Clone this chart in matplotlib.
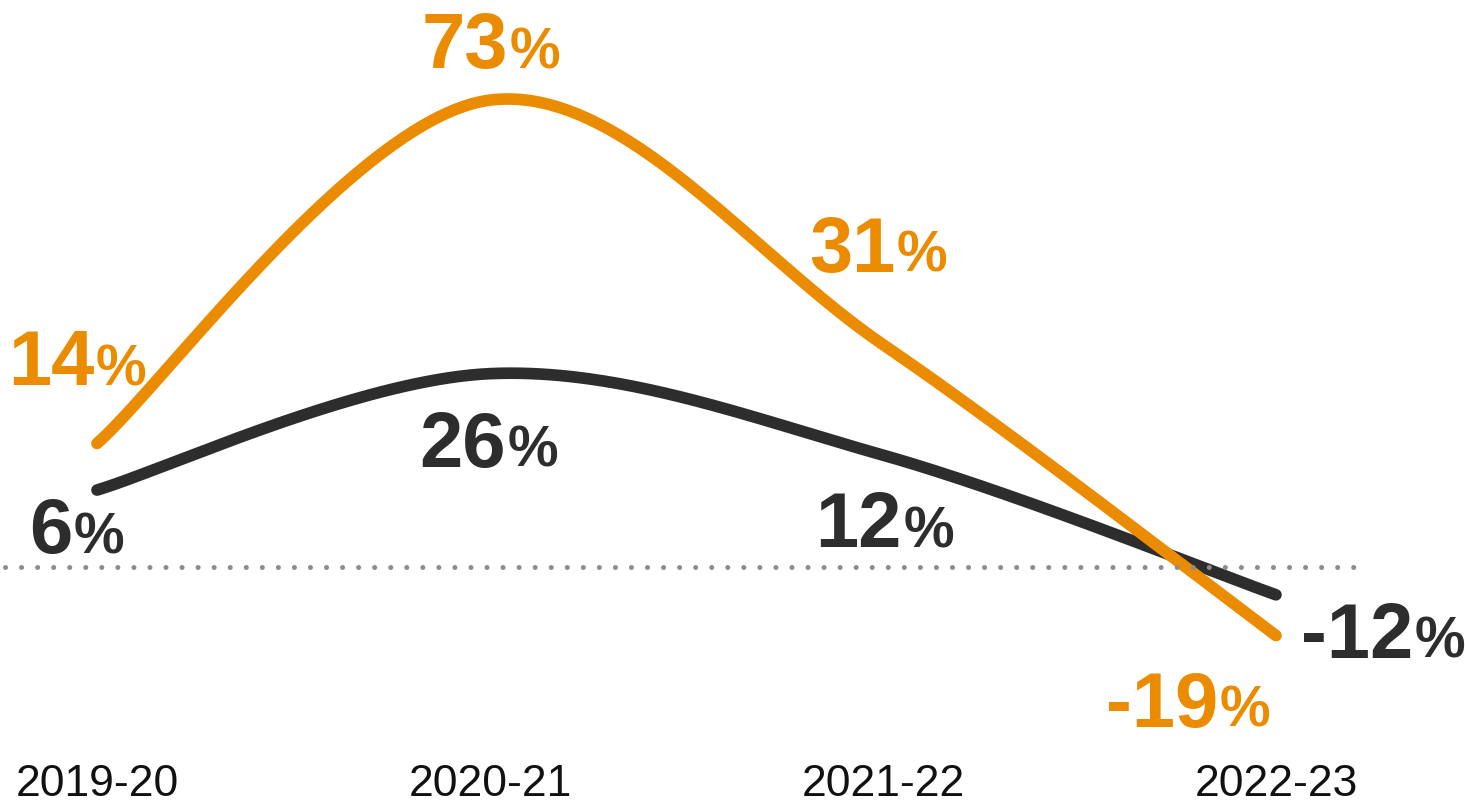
import numpy as np
import matplotlib.pyplot as plt

plt.rcParams['font.family'] = ['Liberation Sans', 'DejaVu Sans']

seasons = ['2019-20', '2020-21', '2021-22', '2022-23']
orange_values = [14, 73, 31, -19]
dark_values = [6, 26, 12, -12]

ORANGE = '#eb8c00'
DARK = '#2d2d2d'
GREY = '#8c8c8c'

# label placement: (dx, dy) in pixels from the point to where number and % meet
orange_offsets = [(-3, 58), (18, 32), (12, 73), (-58, -91)]
dark_offsets = [(-25, -63), (16, -93), (19, -92), (137, -63)]


def cardinal(xs, ys, n=80):
    # cardinal spline, tension 0, endpoints repeated
    pts = np.column_stack([xs, ys]).astype(float)
    padded = np.vstack([pts[0], pts, pts[-1]])
    t = np.linspace(0, 1, n)[:, None]
    h00 = 2 * t**3 - 3 * t**2 + 1
    h10 = t**3 - 2 * t**2 + t
    h01 = -2 * t**3 + 3 * t**2
    h11 = t**3 - t**2
    out = []
    for i in range(len(pts) - 1):
        p0, p1, p2, p3 = padded[i:i + 4]
        m1 = (p2 - p0) / 2
        m2 = (p3 - p1) / 2
        seg = h00 * p1 + h10 * m1 + h01 * p2 + h11 * m2
        out.append(seg if i == 0 else seg[1:])
    return np.vstack(out)


fig = plt.figure(figsize=(14.65, 8.09), dpi=100)
ax = fig.add_axes([0, 0, 1, 1])
ax.axis('off')
ax.set_xlim(-0.2468, 3.481)
ax.set_ylim(-48.8, 90.2)

x = np.arange(len(seasons))

for values, color, z in [(dark_values, DARK, 2), (orange_values, ORANGE, 3)]:
    curve = cardinal(x, values)
    ax.plot(curve[:, 0], curve[:, 1], color=color, lw=8.4,
            solid_capstyle='round', zorder=z)

# dotted baseline
ax.axhline(-7.2, xmin=0.0034, xmax=0.932, color=GREY, lw=3.6,
           linestyle=(0, (0.01, 3.2)), dash_capstyle='round', zorder=4)


def value_label(xi, v, off, color):
    dx, dy = off
    ax.annotate(f'{v}', xy=(xi, v), xytext=(dx, dy), textcoords='offset pixels',
                ha='right', va='baseline', fontsize=56, fontweight='bold',
                color=color, zorder=5)
    ax.annotate('%', xy=(xi, v), xytext=(dx + 2, dy), textcoords='offset pixels',
                ha='left', va='baseline', fontsize=41, fontweight='bold',
                color=color, zorder=5)


for xi, v, off in zip(x, orange_values, orange_offsets):
    value_label(xi, v, off, ORANGE)
for xi, v, off in zip(x, dark_values, dark_offsets):
    value_label(xi, v, off, DARK)

trans = ax.get_xaxis_transform()
for xi, s in zip(x, seasons):
    ax.text(xi, 0.016, s, transform=trans, ha='center', va='baseline',
            fontsize=32, color='#111111')

fig.savefig('out.png', dpi=100)
